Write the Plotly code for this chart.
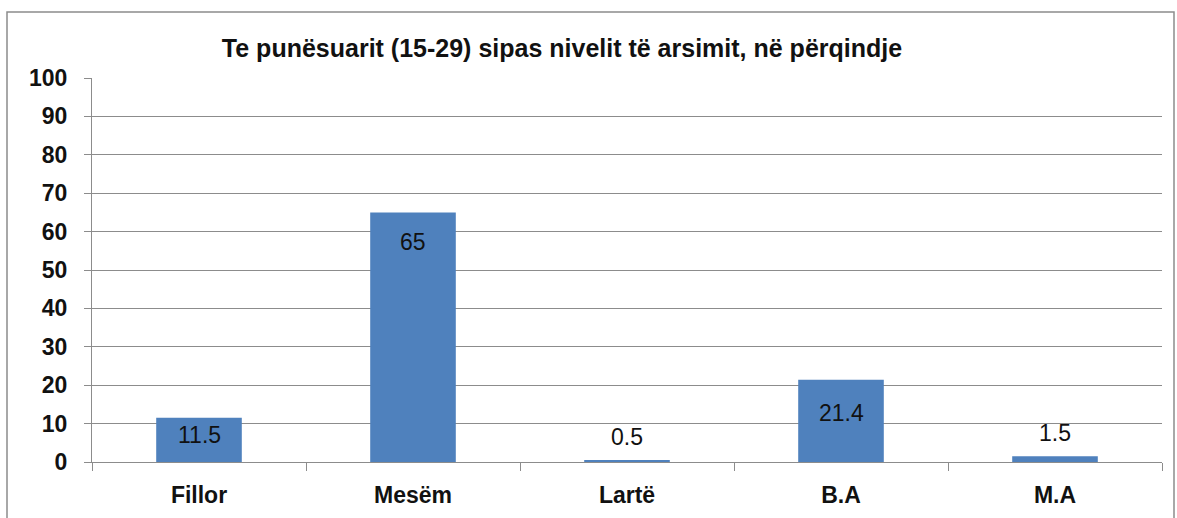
import plotly.graph_objects as go

categories = ["Fillor", "Mesëm", "Lartë", "B.A", "M.A"]
values = [11.5, 65, 0.5, 21.4, 1.5]
label_texts = ["11.5", "65", "0.5", "21.4", "1.5"]
label_shift = [-17, -30, 23, -33, 23]
title_text = "Te punësuarit (15-29) sipas nivelit të arsimit, në përqindje"

W, H = 1177, 518
L, R, T, B = 92, 15, 78, 56
pw, ph = W - L - R, H - T - B
FONT = "Liberation Sans, Arial"

fig = go.Figure()
fig.add_trace(go.Bar(
    x=categories, y=values, marker=dict(color="#4F81BD", line=dict(width=0)),
    width=0.4, hoverinfo="x+y",
))

for c, v, t, s in zip(categories, values, label_texts, label_shift):
    fig.add_annotation(x=c, y=v, text=t, showarrow=False, yshift=s,
                       font=dict(family=FONT, size=23, color="#111"))

fig.add_shape(type="rect", xref="paper", yref="paper",
              x0=(7 - L) / pw, x1=(1174 - L) / pw,
              y0=-(530 - T - ph) / ph, y1=1 + (T - 12) / ph,
              line=dict(color="#8c8c8c", width=1.5), layer="below")

fig.update_layout(
    width=W, height=H,
    margin=dict(l=L, r=R, t=T, b=B, autoexpand=False),
    paper_bgcolor="white", plot_bgcolor="white",
    showlegend=False, bargap=0.6,
    title=dict(text="<b>" + title_text + "</b>", x=562 / W, xanchor="center",
               y=1 - 48 / H, yanchor="middle",
               font=dict(family=FONT, size=25, color="#111")),
    font=dict(family=FONT, color="#111"),
)
fig.update_yaxes(range=[0, 100], dtick=10, showgrid=True, gridcolor="#8c8c8c", gridwidth=1,
                 showline=True, linecolor="#8c8c8c", linewidth=1,
                 ticks="outside", ticklen=7, tickcolor="#8c8c8c",
                 tickprefix="<b>", ticksuffix="</b>",
                 tickfont=dict(size=23, family=FONT, color="#111"),
                 ticklabelstandoff=12, zeroline=False, fixedrange=True, automargin=False)
fig.update_xaxes(showline=True, linecolor="#8c8c8c", linewidth=1,
                 ticks="outside", ticklen=8, tickcolor="#8c8c8c", tickson="boundaries",
                 tickprefix="<b>", ticksuffix="</b>",
                 tickfont=dict(size=23, family=FONT, color="#111"),
                 ticklabelstandoff=12, fixedrange=True, automargin=False)

fig.write_html("out.html", config={"displayModeBar": False},
               post_script="document.body.style.margin='0';")
